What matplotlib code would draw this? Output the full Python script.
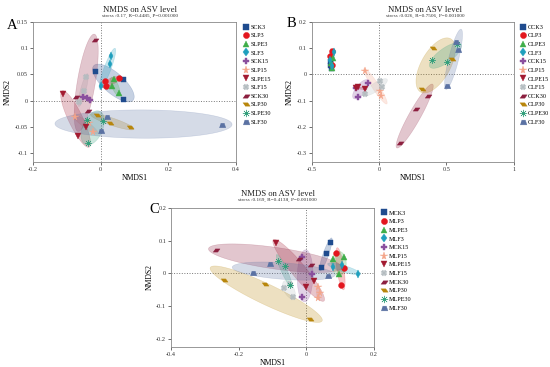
import numpy as np
import matplotlib
matplotlib.use("Agg")
import matplotlib.pyplot as plt
from matplotlib.patches import Polygon

plt.rcParams['font.family'] = ['Liberation Serif', 'DejaVu Serif']

# group colours / markers shared by all three panels
colors = ['#1f4b8e', '#e3161e', '#3fae49', '#1f9fbd', '#8a4f9e', '#f4a58a',
          '#a31a30', '#b4bcc0', '#8c1f3f', '#b8860b', '#34a07c', '#5b72a3']
para_r = [(-1, -0.45), (0.35, -0.45), (1, 0.45), (-0.35, 0.45)]
para_l = [(-1, 0.45), (0.35, 0.45), (1, -0.45), (-0.35, -0.45)]
trap = [(-1, -0.7), (1, -0.7), (0.55, 0.7), (-0.55, 0.7)]
markers = ['s', 'o', '^', 'd', 'P', '*', 'v', 'X', para_r, para_l, (8, 2, 0), trap]
sizes = [3.6, 4.2, 4.2, 4.2, 4.4, 5.5, 4.2, 4.0, 5.0, 5.0, 5.0, 4.6]

# ---- panel A
a_labels = ['SCK3', 'SLP3', 'SLPE3', 'SLF3', 'SCK15', 'SLP15', 'SLPE15', 'SLF15',
            'SCK30', 'SLP30', 'SLPE30', 'SLF30']
a_x = [[-0.017, 0.065, 0.065], [0.014, 0.015, 0.055], [0.040, 0.034, 0.055],
       [0.032, 0.028, 0.0], [-0.053, -0.040, -0.032], [-0.077, -0.023, -0.035],
       [-0.111, -0.067, -0.044], [-0.043, -0.049, -0.063], [-0.018, -0.072, -0.038],
       [-0.011, 0.027, 0.087], [-0.038, -0.040, 0.007], [0.019, 0.002, 0.359]]
a_y = [[0.057, 0.041, 0.003], [0.037, 0.027, 0.043], [0.041, 0.027, 0.014],
       [0.085, 0.070, 0.027], [0.006, 0.005, 0.002], [-0.032, -0.060, -0.043],
       [0.012, -0.067, -0.050], [0.045, 0.018, -0.003], [0.115, 0.007, -0.020],
       [-0.028, -0.043, -0.050], [-0.081, -0.036, -0.039], [-0.031, -0.057, -0.046]]

# ---- panel B
b_labels = ['CCK3', 'CLP3', 'CLPE3', 'CLF3', 'CCK15', 'CLP15', 'CLPE15', 'CLF15',
            'CCK30', 'CLP30', 'CLPE30', 'CLF30']
b_x = [[-0.365, -0.360, -0.363], [-0.353, -0.363, -0.348], [-0.341, -0.358, -0.353],
       [-0.333, -0.363, -0.353], [-0.083, -0.157, -0.169], [-0.103, 0.005, 0.015],
       [-0.169, -0.103, -0.157], [0.005, 0.020, -0.103], [0.157, 0.272, 0.363],
       [0.397, 0.321, 0.542], [0.395, 0.505, 0.578], [0.574, 0.583, 0.502]]
b_y = [[0.037, 0.024, 0.050], [0.088, 0.069, 0.037], [0.062, 0.043, 0.024],
       [0.084, 0.056, 0.031], [-0.031, -0.087, -0.052], [0.014, -0.065, -0.084],
       [-0.052, -0.056, -0.048], [-0.024, -0.048, -0.074], [-0.263, -0.131, -0.082],
       [0.100, -0.056, 0.059], [0.054, 0.047, 0.115], [0.122, 0.094, -0.043]]

# ---- panel C
c_labels = ['MCK3', 'MLP3', 'MLPE3', 'MLF3', 'MCK15', 'MLP15', 'MLPE15', 'MLF15',
            'MCK30', 'MLP30', 'MLPE30', 'MLF30']
c_x = [[0.070, 0.059, 0.044], [0.089, 0.110, 0.103], [0.079, 0.112, 0.098],
       [0.079, 0.104, 0.153], [-0.014, 0.017, -0.014], [0.033, 0.039, 0.033],
       [-0.089, -0.002, 0.023], [-0.067, -0.038, -0.049], [-0.266, -0.023, 0.013],
       [-0.244, -0.123, 0.011], [-0.084, -0.064, -0.048], [-0.158, -0.108, 0.065]]
c_y = [[0.095, 0.061, 0.018], [0.063, 0.015, -0.036], [0.044, 0.049, -0.003],
       [0.018, 0.025, -0.002], [0.051, -0.003, -0.071], [-0.041, -0.061, -0.076],
       [0.092, -0.043, -0.022], [-0.046, -0.073, -0.031], [0.071, 0.043, 0.025],
       [-0.020, -0.031, -0.140], [0.037, 0.022, -0.036], [0.0, 0.028, -0.007]]


def group_ellipse(ax, xs, ys, color, sx, sy, k=1.3, floor=0.16):
    # covariance ellipse worked out in screen-like units so thin groups keep some width
    px = np.asarray(xs) * sx
    py = np.asarray(ys) * sy
    vals, vecs = np.linalg.eigh(np.cov(px, py))
    a = np.sqrt(max(vals[1], 1e-12))
    b = max(np.sqrt(max(vals[0], 0)), floor * a)
    t = np.linspace(0, 2 * np.pi, 120)
    ex = px.mean() + k * (vecs[0, 1] * a * np.cos(t) + vecs[0, 0] * b * np.sin(t))
    ey = py.mean() + k * (vecs[1, 1] * a * np.cos(t) + vecs[1, 0] * b * np.sin(t))
    poly = Polygon(np.column_stack([ex / sx, ey / sy]), closed=True, facecolor=color,
                   edgecolor=color, alpha=0.25, lw=0.4, zorder=1)
    ax.add_patch(poly)


def panel(fig, rect, labels, xs, ys, xlim, ylim, xticks, yticks, xtl, ytl,
          letter, title_xy, stats, letter_xy, leg_anchor):
    ax = fig.add_axes(rect)
    sx = rect[2] * 550 / (xlim[1] - xlim[0])
    sy = rect[3] * 367 / (ylim[1] - ylim[0])
    for i in range(len(labels)):
        group_ellipse(ax, xs[i], ys[i], colors[i], sx, sy)
    for i in range(len(labels)):
        ax.plot(xs[i], ys[i], ls='none', marker=markers[i], ms=sizes[i],
                color=colors[i], mec=colors[i], mew=0.3, label=labels[i], zorder=3)
    ax.axhline(0, color='#777777', ls=':', lw=0.7, zorder=0)
    ax.axvline(0, color='#777777', ls=':', lw=0.7, zorder=0)
    ax.set_xlim(xlim)
    ax.set_ylim(ylim)
    ax.set_xticks(xticks)
    ax.set_xticklabels(xtl)
    ax.set_yticks(yticks)
    ax.set_yticklabels(ytl)
    ax.tick_params(labelsize=4.5, length=2, width=0.5, pad=1.5, colors='#333333')
    for s in ax.spines.values():
        s.set_color('#888888')
        s.set_linewidth(0.6)
    ax.set_xlabel('NMDS1', fontsize=5.5, labelpad=1.5)
    ax.set_ylabel('NMDS2', fontsize=5.5, labelpad=2)
    fig.text(title_xy[0], title_xy[1], 'NMDS on ASV level', ha='center', va='center',
             fontsize=6.2, color='#222222')
    fig.text(title_xy[0], title_xy[1] - 0.016, stats, ha='center', va='center',
             fontsize=3.8, color='#333333')
    fig.text(letter_xy[0], letter_xy[1], letter, ha='left', va='center', fontsize=10.5)
    ax.legend(loc='upper left', bbox_to_anchor=leg_anchor, frameon=False, fontsize=4.4,
              handlelength=1.0, handletextpad=0.3, labelspacing=0.55, borderaxespad=0,
              markerscale=1.05)
    return ax


fig = plt.figure(figsize=(5.5, 3.67), dpi=100)

panel(fig, [0.060, 0.5586, 0.369, 0.3815], a_labels, a_x, a_y,
      (-0.2, 0.4), (-0.117, 0.15), [-0.2, 0, 0.2, 0.4], [-0.1, -0.05, 0, 0.05, 0.1, 0.15],
      ['-0.2', '0', '0.2', '0.4'], ['-0.1', '-0.05', '0', '0.05', '0.1', '0.15'],
      'A', (0.255, 0.973), 'stress :0.17, R=0.4485, P=0.001000', (0.012, 0.93),
      (1.02, 1.0))

panel(fig, [0.567, 0.5586, 0.367, 0.3815], b_labels, b_x, b_y,
      (-0.5, 1.0), (-0.334, 0.2), [-0.5, 0, 0.5, 1], [-0.3, -0.2, -0.1, 0, 0.1, 0.2],
      ['-0.5', '0', '0.5', '1'], ['-0.3', '-0.2', '-0.1', '0', '0.1', '0.2'],
      'B', (0.773, 0.973), 'stress :0.026, R=0.7506, P=0.001000', (0.522, 0.937),
      (1.02, 1.0))

panel(fig, [0.311, 0.0545, 0.369, 0.379], c_labels, c_x, c_y,
      (-0.4, 0.2), (-0.225, 0.2), [-0.4, -0.2, 0, 0.2], [-0.2, -0.1, 0, 0.1, 0.2],
      ['-0.4', '-0.2', '0', '0.2'], ['-0.2', '-0.1', '0', '0.1', '0.2'],
      'C', (0.505, 0.471), 'stress :0.169, R=0.4138, P=0.001000', (0.272, 0.428),
      (1.02, 1.0))

fig.savefig('out.png', dpi=100)
